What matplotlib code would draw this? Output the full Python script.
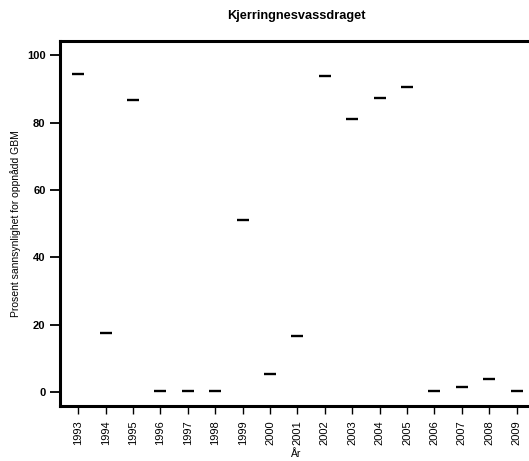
import matplotlib
matplotlib.use("Agg")
import matplotlib.pyplot as plt
from matplotlib import font_manager

# use the regular (not narrow) Liberation Sans files
fnames = {}
for f in font_manager.fontManager.ttflist:
    base = f.fname.split('/')[-1]
    if base in ('LiberationSans-Regular.ttf', 'LiberationSans-Bold.ttf'):
        fnames[base] = f.fname
reg = font_manager.FontProperties(fname=fnames.get('LiberationSans-Regular.ttf'))
bold = font_manager.FontProperties(fname=fnames.get('LiberationSans-Bold.ttf'))

# data: percent probability per year
years = ['1993', '1994', '1995', '1996', '1997', '1998', '1999', '2000', '2001',
         '2002', '2003', '2004', '2005', '2006', '2007', '2008', '2009']
prosent = [94.3, 17.4, 86.7, 0.2, 0.2, 0.2, 51.2, 5.4, 16.6,
           93.8, 81.0, 87.3, 90.4, 0.2, 1.6, 3.8, 0.2]
y_ticks = [0, 20, 40, 60, 80, 100]

fig = plt.figure(figsize=(5.29, 4.61), dpi=100)
ax = fig.add_axes([59.5 / 529, 1 - 406 / 461, 474 / 529, 365 / 461])

x = list(range(len(years)))
ax.plot(x, prosent, linestyle='none', marker='_', markersize=8.5,
        markeredgewidth=1.7, color='black')

ax.set_xlim(-0.686, -0.686 + 474 / 27.4)
ax.set_ylim(-4.15, 104.2)

for s in ax.spines.values():
    s.set_linewidth(2.2)
ax.spines['right'].set_visible(False)

ax.set_xticks(x)
ax.set_xticklabels(years, rotation=90, fontproperties=reg, fontsize=8)
ax.set_yticks(y_ticks)
ax.set_yticklabels([str(v) for v in y_ticks], fontproperties=bold, fontsize=8)
ax.tick_params(axis='y', length=7, width=1.3, pad=3)
ax.tick_params(axis='x', length=6, width=1, pad=4)

ax.set_xlabel('År', fontproperties=reg, fontsize=7.5, labelpad=3)
ax.set_ylabel('Prosent sannsynlighet for oppnådd GBM', fontproperties=reg,
              fontsize=7.5, labelpad=4)
ax.set_title('Kjerringnesvassdraget', fontproperties=bold, fontsize=9.2, pad=16)

fig.savefig('out.png', dpi=100)
